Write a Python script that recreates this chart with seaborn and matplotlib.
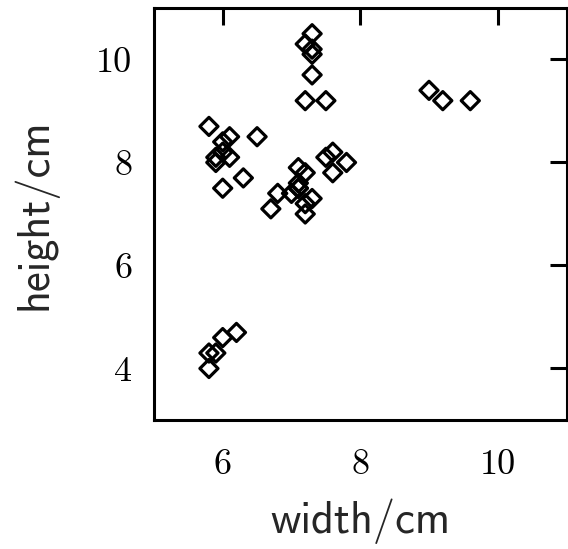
import pandas as pd
import matplotlib
matplotlib.use("Agg")
import matplotlib.pyplot as plt
import seaborn as sns

# fruit measurements (mandarins, oranges, lemons)
width = [6.2, 6.0, 5.8, 5.9, 5.8,
         9.0, 9.2, 9.6, 7.5, 6.7, 7.0, 7.1, 7.8, 7.2, 7.5,
         7.6, 7.1, 7.1, 7.3, 7.2, 6.8, 7.1, 7.6, 7.2,
         7.2, 7.3, 7.2, 7.3, 7.3, 7.3,
         5.8, 6.0, 6.0, 5.9, 6.0, 6.1, 6.3, 5.9, 6.5, 6.1]
height = [4.7, 4.6, 4.3, 4.3, 4.0,
          9.4, 9.2, 9.2, 9.2, 7.1, 7.4, 7.5, 8.0, 7.0, 8.1,
          7.8, 7.9, 7.6, 7.3, 7.8, 7.4, 7.5, 8.2, 7.2,
          10.3, 10.5, 9.2, 10.2, 9.7, 10.1,
          8.7, 8.2, 7.5, 8.0, 8.4, 8.5, 7.7, 8.1, 8.5, 8.1]

xticks = [6, 8, 10]
yticks = [4, 6, 8, 10]

df = pd.DataFrame({"width": width, "height": height})

sns.set_style("white")
plt.rcParams["font.family"] = ["cmr10", "DejaVu Sans"]
plt.rcParams["axes.formatter.use_mathtext"] = True

fig = plt.figure(figsize=(5.68, 5.49), dpi=100)
ax = fig.add_axes([0.271, 0.235, 0.7265, 0.7505])

sns.scatterplot(data=df, x="width", y="height", ax=ax, marker="D", s=85,
                facecolor="none", edgecolor="black", linewidth=2.3)

ax.set_xlim(5, 11)
ax.set_ylim(3, 11)
ax.set_xticks(xticks)
ax.set_yticks(yticks)
ax.set_xticklabels([str(t) for t in xticks])
ax.set_yticklabels([str(t) for t in yticks])

for side in ["left", "right", "top", "bottom"]:
    ax.spines[side].set_visible(True)
    ax.spines[side].set_color("black")
    ax.spines[side].set_linewidth(2.2)

ax.tick_params(axis="both", direction="in", top=True, right=True,
               length=12, width=2.2, labelsize=26, colors="black")
ax.tick_params(axis="x", pad=21)
ax.tick_params(axis="y", pad=15.5)

ax.set_xlabel("width/cm", fontfamily="cmss10", fontsize=32, labelpad=13)
ax.set_ylabel("height/cm", fontfamily="cmss10", fontsize=32, labelpad=28)

fig.savefig("out.png", dpi=100)
